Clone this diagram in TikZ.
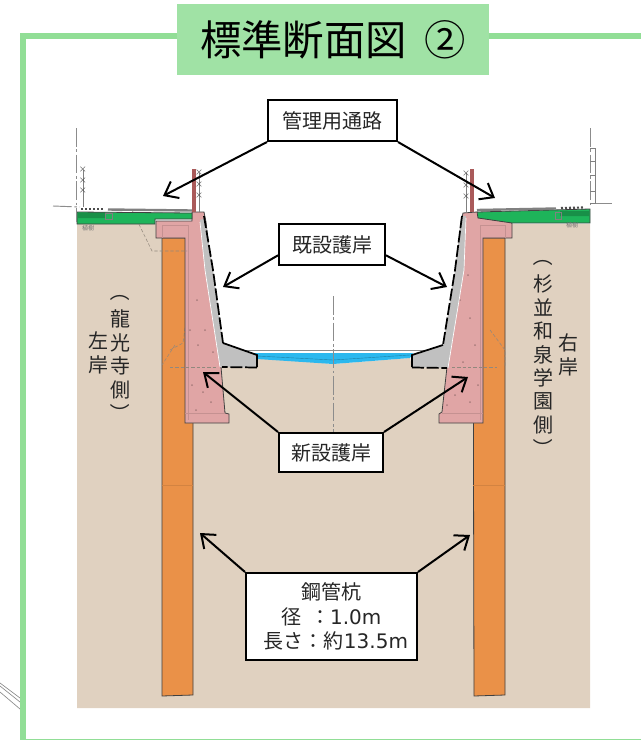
\documentclass[tikz,border=0pt]{standalone}
\usepackage{fontspec}
\setmainfont{Noto Sans CJK JP}
\newfontfamily\latinfont{DejaVu Sans}
\usetikzlibrary{arrows.meta}
\definecolor{framegreen}{RGB}{145,222,150}
\definecolor{titlegreen}{RGB}{160,226,165}
\definecolor{ground}{RGB}{224,209,192}
\definecolor{pile}{RGB}{234,145,72}
\definecolor{wallpink}{RGB}{224,165,165}
\definecolor{road}{RGB}{30,180,90}
\definecolor{water}{RGB}{43,184,238}
\definecolor{oldgrey}{RGB}{192,192,192}
\definecolor{post}{RGB}{170,90,90}
\newcommand{\vopen}{\smash{\raisebox{3pt}{\rotatebox[origin=c]{-90}{（}}}}
\newcommand{\vclose}{\smash{\raisebox{-0.5pt}{\rotatebox[origin=c]{-90}{）}}}}
\tikzset{
 x=0.75pt,y=-0.75pt,
 labelbox/.style={draw=black,line width=1.5pt,fill=white,inner sep=0pt,align=center,text=black!85,font=\fontsize{15}{18.4}\selectfont},
 callout/.style={draw=black,line width=1.5pt,-{Straight Barb[length=9pt,width=14pt,line width=1.5pt]}},
 sidetext/.style={inner sep=0pt,align=center,text=black!85,font=\fontsize{15}{17.6}\selectfont},
 outline/.style={draw=black!75,line width=0.6pt},
 oldwall/.style={draw=black,line width=1.3pt,dash pattern=on 9pt off 2pt},
 thinline/.style={draw=black!50,line width=0.5pt},
 centre/.style={draw=black!45,line width=0.7pt,dash pattern=on 14pt off 2pt on 2pt off 2pt},
 fine/.style={draw=black!35!ground,line width=0.4pt,dash pattern=on 2.5pt off 1.5pt},
 xmark/.style={inner sep=0pt,text=black!70,font=\fontsize{6}{6}\selectfont},
 speck/.style={fill=black!25!wallpink},
 tiny/.style={inner sep=0pt,text=black!55,font=\fontsize{4.5}{5}\selectfont},
}
\begin{document}
\begin{tikzpicture}
\useasboundingbox (0,0) rectangle (641,740);
\fill[white] (0,0) rectangle (641,740);
% stray lines bottom left
\foreach \a/\b in {683/698,686/702,692/709}
  \draw[black!45,line width=0.5pt] (0,\a) -- (20,\b);
% frame
\begin{scope}
\clip (0,0) rectangle (641,740);
\draw[framegreen,line width=4.5pt] (645,35.7) -- (23,35.7) -- (23,742) -- (645,742);
\end{scope}
% ground
\fill[ground] (77,224) -- (204,224) -- (221,366) -- (257,368) -- (257,357) -- (333,364) -- (410,358) -- (412,367) -- (447,368) -- (462,224) -- (590,224) -- (590,708) -- (77,708) -- cycle;
% water
\draw[black!45,line width=0.7pt] (228,350) -- (427,350);
\fill[water] (248,353) -- (413,353) -- (410,358) -- (333,364) -- (257,359) -- cycle;
\draw[water!70!black,line width=0.3pt] (257,356) -- (333,360) -- (410,355);
\draw[centre] (333,296) -- (333,432);
% piles
\fill[pile,outline] (162,238) -- (193,238) -- (193,695) -- (162,696) -- cycle;
\fill[pile,outline] (473,238) -- (505,238) -- (505,695) -- (474,696) -- cycle;
\draw[pile!90!black,line width=0.3pt] (162,485) -- (193,485) (473,485) -- (505,485);
\draw[fine] (170,350) -- (183,343) -- (187,313);
% new revetment
\fill[wallpink,outline] (156,221) -- (192,221) -- (192,212) -- (204,212) -- (206,222) -- (221,367) -- (225,413) -- (229,414) -- (229,423) -- (185,423) -- (185,238) -- (156,238) -- cycle;
\fill[wallpink,outline] (512,223) -- (477,212) -- (463,213) -- (461,222) -- (447,367) -- (442,412) -- (439,414) -- (439,423) -- (483,423) -- (483,238) -- (512,238) -- cycle;
\draw[black!12!wallpink,line width=0.4pt] (162,238) -- (162,225) -- (188,225) -- (188,420) (505,238) -- (505,225) -- (480,225) -- (480,420);
\draw[black!12!wallpink,line width=0.4pt] (185,413) -- (225,413) (442,413) -- (483,413);
% speckle
\foreach \p/\q in {197/300,205/330,198/345,213/352,192/385,203/392,211/402,196/410,190/330,208/375,460/300,470/318,452/340,463/362,475/345,455/395,470/402,447/405,478/385,468/275}
  \fill[speck] (\p,\q) circle[radius=1];
% existing revetment
\fill[oldgrey] (200,220) -- (205,218) -- (213,270) -- (223,343) -- (257,355) -- (257,368) -- (220,367) -- (205,270) -- cycle;
\fill[oldgrey] (462,216) -- (466,216) -- (464,270) -- (448,368) -- (412,367) -- (412,355) -- (443,345) -- (455,270) -- cycle;
\draw[white,line width=0.5pt] (200,222) -- (205,270) -- (220,367);
\draw[white,line width=0.5pt] (466,218) -- (464,270) -- (448,368);
\draw[oldwall] (204,216) -- (213,270) -- (223,343);
\draw[black,line width=1.3pt] (223,343) -- (257,355) -- (257,367);
\draw[oldwall] (257,367.5) -- (222,367);
\draw[oldwall] (462,216) -- (455,270) -- (443,345);
\draw[black,line width=1.3pt] (443,345) -- (412,355) -- (412,367);
\draw[oldwall] (412,367.5) -- (447,368);
% fine dashes
\draw[fine] (132,210) -- (152,251) -- (187,251);
\draw[fine] (170,367) -- (216,367);
\draw[fine] (452,367) -- (497,367);
\draw[fine] (175,345) -- (162,365);
\draw[fine] (490,330) -- (505,350) -- (505,366);
% road slabs
\fill[road,outline] (77,212) -- (192,213) -- (192,219) -- (155,219) -- (155,224) -- (112,224) -- (77,224) -- cycle;
\fill[road,outline] (477,212) -- (590,209) -- (590,223) -- (512,223) -- (478,218) -- cycle;
\fill[road!80!black] (78,213) rectangle (105,218) (560,211) rectangle (589,216);
\draw[thinline] (105,213) rectangle (112,219) (555,212) rectangle (561,219);
% road surface
\draw[black!50,line width=1.8pt] (108,209.5) -- (192,210.5);
\draw[black!50,line width=1.8pt] (477,210) -- (556,208.5);
\draw[black!70,line width=1.6pt,dash pattern=on 1.5pt off 1.5pt] (81,209) -- (105,209);
\draw[black!70,line width=1.6pt,dash pattern=on 1.5pt off 1.5pt] (561,208) -- (584,207.5);
% centre/boundary lines
\draw[centre] (76,128) -- (76,222);
\draw[centre] (590,128) -- (590,205);
\draw[centre] (53,206) -- (80,207);
\draw[centre] (593,203) -- (613,203);
\draw[thinline] (590,148) -- (595,148) -- (595,203) -- (590,203);
\foreach \q in {161,175,191} \draw[thinline] (590,\q) -- (595,\q);
% fences
\draw[thinline] (83,170) -- (83,207);
\foreach \q in {170,181,191} \node[xmark] at (83,\q) {×};
\draw[thinline] (199,173) -- (199,212);
\foreach \q in {173,185,196} \node[xmark] at (199,\q) {×};
\draw[thinline] (466,173) -- (466,212);
\foreach \q in {174,186,197} \node[xmark] at (466,\q) {×};
% posts
\fill[post] (192,169) rectangle (196,212);
\fill[post] (470,169) rectangle (474,212);
% small labels
\node[tiny] (pl) at (88,228) {植樹};
\node[tiny] (pr) at (572,225) {植樹};
% side texts
\node[sidetext] (lb) at (120.5,362) {\vopen\\龍\\光\\寺\\側\\\vclose};
\node[sidetext] (lq) at (98,353) {左\\岸};
\node[sidetext] (rb) at (543,362) {\vopen\\杉\\並\\和\\泉\\学\\園\\側\\\vclose};
\node[sidetext] (rq) at (568,355) {右\\岸};
% title
\node[fill=titlegreen,minimum width=234pt,minimum height=53.25pt,inner sep=0pt,text=black,font=\fontsize{31}{33}\selectfont] (title) at (333,39.5) {\raisebox{-2.2pt}{標準断面図 \hspace{6.5pt}②}};
% labels
\node[labelbox,minimum width=96.75pt,minimum height=30.75pt] (kanri) at (332.5,120.5) {管理用通路};
\node[labelbox,minimum width=79.5pt,minimum height=30.75pt] (kisetsu) at (332,244.5) {既設護岸};
\node[labelbox,minimum width=78pt,minimum height=29.25pt] (shinsetsu) at (331,452.5) {新設護岸};
\node[labelbox,minimum width=128.25pt,minimum height=65.25pt] (kou) at (331.5,616.5) {鋼管杭\\径 \hspace{3pt}：{\latinfont 1.0m}\hspace*{12pt}\\\hspace*{6.75pt}長さ：約{\latinfont 13.5m}};
% callout tips
\coordinate (t1) at (163,196);
\coordinate (t2) at (495,198);
\coordinate (t3) at (223,287);
\coordinate (t4) at (447,287);
\coordinate (t5) at (203,372);
\coordinate (t6) at (468,377);
\coordinate (t7) at (200,533);
\coordinate (t8) at (470,535);
\draw[callout] (kanri.south west) -- (t1);
\draw[callout] (kanri.south east) -- (t2);
\draw[callout] ([yshift=8pt]kisetsu.south west) -- (t3);
\draw[callout] ([yshift=8pt]kisetsu.south east) -- (t4);
\draw[callout] (shinsetsu.north west) -- (t5);
\draw[callout] (shinsetsu.north east) -- (t6);
\draw[callout] (kou.north west) -- (t7);
\draw[callout] (kou.north east) -- (t8);
\end{tikzpicture}
\end{document}
